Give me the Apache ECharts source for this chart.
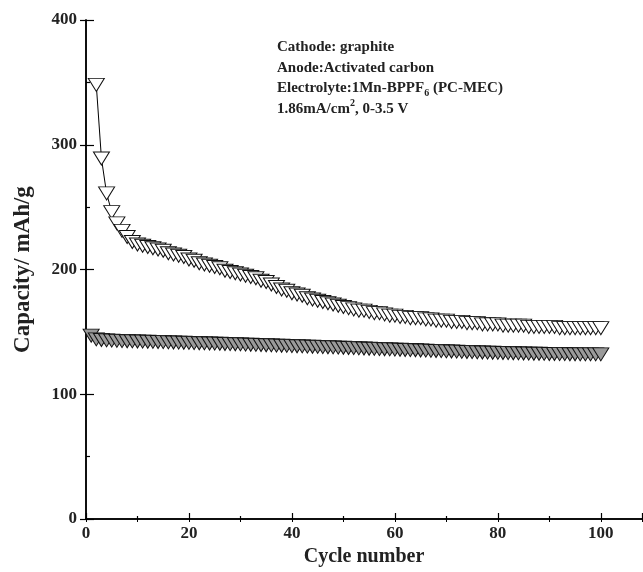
<!DOCTYPE html>
<html>
<head>
<meta charset="utf-8">
<script src="https://cdn.jsdelivr.net/npm/echarts@6/dist/echarts.min.js"></script>
<style>html,body{margin:0;padding:0;background:#fff}#c{width:643px;height:572px}</style>
</head>
<body>
<div id="c"></div>
<script>
// Cycle numbers and capacities (mAh/g)
const openCycles = [2,3,4,5,6,7,8,9,10,11,12,13,14,15,16,17,18,19,20,21,22,23,24,25,26,27,28,29,30,31,32,33,34,35,36,37,38,39,40,41,42,43,44,45,46,47,48,49,50,51,52,53,54,55,56,57,58,59,60,61,62,63,64,65,66,67,68,69,70,71,72,73,74,75,76,77,78,79,80,81,82,83,84,85,86,87,88,89,90,91,92,93,94,95,96,97,98,99,100];
const openCapacity = [348,289,261,246,237,231,226,222,220,219,218,217,216,215,213,212,211,210,208,207,205,204,203,202,201,199,198,197,196,195,194,193,191,190,188,186,184,183,181,180,179,177,176,175,174,173,172,171,170,169,168,167,167,166,165,165,164,163,163,162,162,161,161,161,160,160,159,159,159,158,158,158,157,157,157,156,156,156,156,155,155,155,155,155,154,154,154,154,154,154,153,153,153,153,153,153,153,153,153];
const greyCycles = [1,2,3,4,5,6,7,8,9,10,11,12,13,14,15,16,17,18,19,20,21,22,23,24,25,26,27,28,29,30,31,32,33,34,35,36,37,38,39,40,41,42,43,44,45,46,47,48,49,50,51,52,53,54,55,56,57,58,59,60,61,62,63,64,65,66,67,68,69,70,71,72,73,74,75,76,77,78,79,80,81,82,83,84,85,86,87,88,89,90,91,92,93,94,95,96,97,98,99,100];
const greyCapacity = [147,144,143.5,143.2,143,142.8,142.6,142.5,142.4,142.3,142.2,142.1,142,141.9,141.8,141.6,141.5,141.4,141.3,141.2,141,140.9,140.8,140.7,140.6,140.5,140.3,140.2,140.1,140,139.8,139.7,139.6,139.5,139.3,139.2,139,138.9,138.8,138.6,138.5,138.4,138.2,138.1,138,137.8,137.7,137.6,137.4,137.3,137.1,137,136.8,136.7,136.5,136.4,136.2,136.1,136,135.8,135.7,135.5,135.4,135.3,135.1,135,134.8,134.7,134.6,134.4,134.3,134.2,134,133.9,133.8,133.6,133.5,133.4,133.3,133.2,133.1,133,132.9,132.8,132.7,132.6,132.5,132.5,132.4,132.3,132.3,132.2,132.2,132.1,132.1,132,132,132,132,132];
const xTicks = [0,20,40,60,80,100];
const yTicks = [0,100,200,300,400];
const annotationLines = ['Cathode: graphite','Anode:Activated carbon','Electrolyte:1Mn-BPPF{sub|6} (PC-MEC)','1.86mA/cm{sup|2}, 0-3.5 V'];

const FONT = '"Liberation Serif","Times New Roman",serif';
const chart = echarts.init(document.getElementById('c'), null, {renderer:'canvas'});
const lineStyleAxis = {color:'#000', width:1.5};
chart.setOption({
  animation:false,
  backgroundColor:'#fff',
  title:{
    left:277, top:37, padding:0,
    text: annotationLines.join('\n'),
    textStyle:{
      fontFamily:FONT, fontWeight:'bold', fontSize:15, color:'#222', lineHeight:20.5,
      rich:{
        sub:{fontFamily:FONT, fontWeight:'bold', fontSize:10, color:'#222', verticalAlign:'bottom', lineHeight:14, padding:[6,0,0,0]},
        sup:{fontFamily:FONT, fontWeight:'bold', fontSize:10, color:'#222', verticalAlign:'top', lineHeight:14, padding:[0,0,6,0]}
      }
    }
  },
  grid:{left:86, right:1, top:20, bottom:53, containLabel:false},
  xAxis:[
    {type:'value', position:'bottom', min:0, max:108, interval:20,
     name:'Cycle number', nameLocation:'middle', nameGap:20,
     nameTextStyle:{fontFamily:FONT, fontWeight:'bold', fontSize:20, color:'#222'},
     axisLine:{show:true, lineStyle:lineStyleAxis}, splitLine:{show:false},
     axisTick:{show:true, inside:true, length:6, lineStyle:{color:'#000', width:1.2}},
     minorTick:{show:true, splitNumber:2, length:3, lineStyle:{color:'#000', width:1.2}},
     axisLabel:{showMaxLabel:false, margin:6, fontFamily:FONT, fontWeight:'bold', fontSize:17, color:'#222',
       formatter:v=> xTicks.indexOf(v)>=0 ? String(v) : ''}},
    {type:'value', position:'top', min:0, max:108, interval:10,
     axisLine:{show:true, lineStyle:lineStyleAxis}, splitLine:{show:false},
     axisTick:{show:true, inside:true, length:3, lineStyle:{color:'#000', width:1}},
     axisLabel:{show:false}}
  ],
  yAxis:[
    {type:'value', position:'left', min:0, max:400, interval:100,
     name:'Capacity/ mAh/g', nameLocation:'middle', nameGap:51, nameRotate:90,
     nameTextStyle:{fontFamily:FONT, fontWeight:'bold', fontSize:23, color:'#222'},
     axisLine:{show:true, lineStyle:lineStyleAxis}, splitLine:{show:false},
     axisTick:{show:true, inside:true, length:8, lineStyle:{color:'#000', width:1.2}},
     minorTick:{show:true, splitNumber:2, length:4, lineStyle:{color:'#000', width:1.2}},
     axisLabel:{margin:9, fontFamily:FONT, fontWeight:'bold', fontSize:17, color:'#222',
       formatter:v=> yTicks.indexOf(v)>=0 ? String(v) : ''}},
    {type:'value', position:'right', min:0, max:400, interval:100,
     axisLine:{show:true, lineStyle:lineStyleAxis}, splitLine:{show:false},
     axisTick:{show:true, inside:true, length:6, lineStyle:{color:'#000', width:1.2}},
     axisLabel:{show:false}}
  ],
  series:[
    {type:'line', xAxisIndex:0, yAxisIndex:0,
     data: greyCycles.map((c,i)=>[c, greyCapacity[i]]),
     symbol:'triangle', symbolRotate:180, symbolSize:[16,13], showAllSymbol:true,
     lineStyle:{color:'#000', width:1},
     itemStyle:{color:'#9a9a9a', borderColor:'#111', borderWidth:1}},
    {type:'line', xAxisIndex:0, yAxisIndex:0,
     data: openCycles.map((c,i)=>[c, openCapacity[i]]),
     symbol:'triangle', symbolRotate:180, symbolSize:[16,13], showAllSymbol:true,
     lineStyle:{color:'#000', width:1},
     itemStyle:{color:'#fff', borderColor:'#111', borderWidth:1}}
  ]
});
</script>
</body>
</html>
